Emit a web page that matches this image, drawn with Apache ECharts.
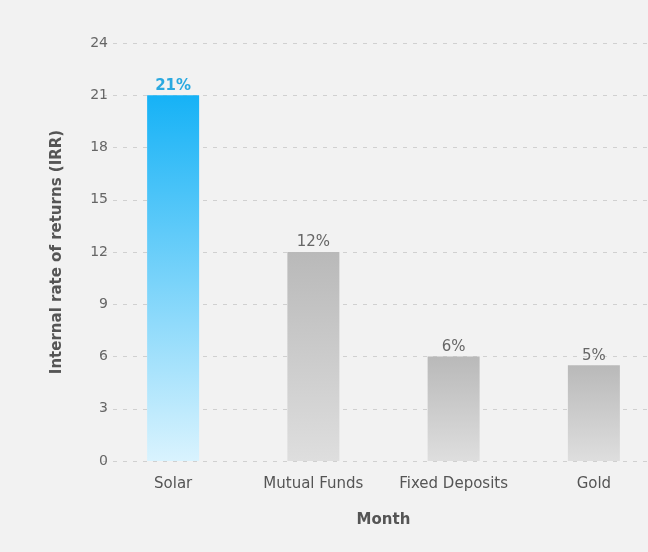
<!DOCTYPE html>
<html>
<head>
<meta charset="utf-8">
<script src="https://cdn.jsdelivr.net/npm/echarts@6/dist/echarts.min.js"></script>
<style>
html,body{margin:0;padding:0;background:#f2f2f2;overflow:hidden;}
#c{width:664px;height:552px;}
</style>
</head>
<body>
<div id="c"></div>
<script>
const categories = ["Solar", "Mutual Funds", "Fixed Deposits", "Gold"];
const values = [21, 12, 6, 5.5];
const valueLabels = ["21%", "12%", "6%", "5%"];
const yTicks = [0, 3, 6, 9, 12, 15, 18, 21, 24];

const chart = echarts.init(document.getElementById('c'));
const font = '"DejaVu Sans", sans-serif';

const blueGrad = new echarts.graphic.LinearGradient(0, 0, 0, 1, [
  {offset: 0, color: '#16b2f6'},
  {offset: 1, color: '#d9f3fe'}
]);
const grayGrad = new echarts.graphic.LinearGradient(0, 0, 0, 1, [
  {offset: 0, color: '#b9b9b9'},
  {offset: 1, color: '#dedede'}
]);

chart.setOption({
  backgroundColor: '#f2f2f2',
  animation: false,
  grid: {left: 103, top: 43, right: 0, bottom: 91, containLabel: false},
  xAxis: {
    type: 'category',
    data: categories,
    axisLine: {show: false},
    axisTick: {show: false},
    axisLabel: {color: '#555', fontSize: 15, fontFamily: font, margin: 16, interval: 0, hideOverlap: false},
    name: 'Month',
    nameLocation: 'middle',
    nameGap: 52,
    nameTextStyle: {color: '#555', fontSize: 15, fontWeight: 'bold', fontFamily: font}
  },
  yAxis: {
    type: 'value',
    min: 0, max: 24, interval: 3,
    axisLine: {show: false},
    axisTick: {show: false},
    axisLabel: {color: '#666', fontSize: 14, fontFamily: font, margin: -5,
      formatter: v => yTicks.includes(v) ? String(v) : ''},
    splitLine: {lineStyle: {color: '#d0d0d0', type: [4, 6], width: 1}},
    name: 'Internal rate of returns (IRR)',
    nameLocation: 'middle',
    nameGap: 38,
    nameTextStyle: {color: '#555', fontSize: 15, fontWeight: 'bold', fontFamily: font}
  },
  series: [{
    type: 'bar',
    barWidth: 52,
    data: values.map((v, i) => ({
      value: v,
      itemStyle: {color: i === 0 ? blueGrad : grayGrad},
      label: {
        show: true, position: 'top', distance: 2,
        formatter: valueLabels[i],
        color: i === 0 ? '#2aa9e0' : '#666',
        fontWeight: i === 0 ? 'bold' : 'normal',
        fontSize: 15, fontFamily: font
      }
    }))
  }]
});
</script>
</body>
</html>
